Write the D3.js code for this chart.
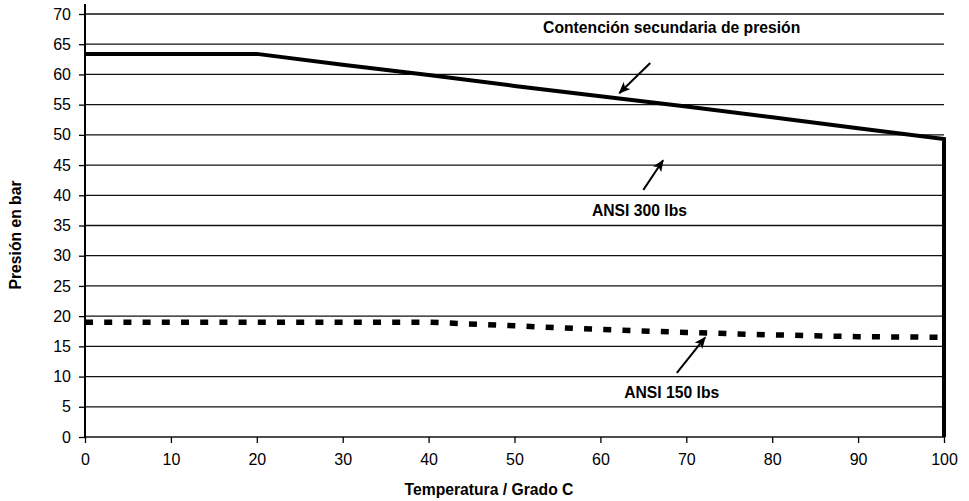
<!DOCTYPE html>
<html>
<head>
<meta charset="utf-8">
<script src="https://cdn.jsdelivr.net/npm/d3@7"></script>
<style>
  html, body { margin: 0; padding: 0; background: #fff; }
  svg { display: block; font-family: "Liberation Sans", Arial, sans-serif; }
</style>
</head>
<body>
<svg id="chart" width="969" height="501"></svg>
<script>
// Temperature (°C) points shared by both rating curves
const temps = [0, 10, 20, 30, 40, 50, 60, 70, 80, 90, 100];
// Secondary pressure containment / ANSI 300 lbs rating (bar)
const ansi300 = [63.4, 63.4, 63.4, 61.6, 59.9, 58.1, 56.4, 54.7, 52.9, 51.1, 49.3];
// ANSI 150 lbs rating (bar)
const ansi150 = [19.0, 19.0, 19.0, 19.0, 19.0, 18.4, 17.8, 17.3, 16.9, 16.6, 16.5];

const xTicks = [0, 10, 20, 30, 40, 50, 60, 70, 80, 90, 100];
const yTicks = [0, 5, 10, 15, 20, 25, 30, 35, 40, 45, 50, 55, 60, 65, 70];

// Text labels and their pointer arrows, in data units
const labels = [
  { text: "Contención secundaria de presión", t: 68.3, p: 66.9 },
  { text: "ANSI 300 lbs", t: 64.55, p: 36.6 },
  { text: "ANSI 150 lbs", t: 68.3, p: 6.45 }
];
const arrows = [
  { t0: 65.8, p0: 61.9, t1: 62.2, p1: 56.9 },
  { t0: 65.0, p0: 40.9, t1: 67.3, p1: 45.8 },
  { t0: 68.9, p0: 10.6, t1: 72.2, p1: 16.5 }
];

const svg = d3.select("#chart");
const x = d3.scaleLinear().domain([0, 100]).range([85, 944]);
const y = d3.scaleLinear().domain([0, 70]).range([437, 14]);

// Horizontal gridlines
svg.append("g").selectAll("line").data(yTicks).join("line")
  .attr("x1", x(0)).attr("x2", x(100))
  .attr("y1", d => y(d)).attr("y2", d => y(d))
  .attr("stroke", "#111").attr("stroke-width", 1.3);

// Y axis
const yAxis = svg.append("g").attr("transform", `translate(${x(0)},0)`)
  .call(d3.axisLeft(y).tickValues(yTicks).tickSize(6).tickPadding(8).tickFormat(d3.format("d")));
yAxis.select(".domain").remove();
yAxis.selectAll(".tick line").attr("stroke", "#000").attr("stroke-width", 1.3);
yAxis.selectAll(".tick text").attr("fill", "#000").attr("font-size", 16)
  .attr("font-family", "Liberation Sans, Arial, sans-serif");
svg.append("line")
  .attr("x1", x(0)).attr("x2", x(0)).attr("y1", 4).attr("y2", y(0) + 1)
  .attr("stroke", "#000").attr("stroke-width", 2);

// X axis
const xAxis = svg.append("g").attr("transform", `translate(0,${y(0)})`)
  .call(d3.axisBottom(x).tickValues(xTicks).tickSize(6).tickPadding(11).tickFormat(d3.format("d")));
xAxis.select(".domain").remove();
xAxis.selectAll(".tick line").attr("stroke", "#000").attr("stroke-width", 1.3);
xAxis.selectAll(".tick text").attr("fill", "#000").attr("font-size", 16)
  .attr("font-family", "Liberation Sans, Arial, sans-serif");

const line = d3.line().x(d => x(d[0])).y(d => y(d[1]));

// ANSI 300 curve, closed down to zero at 100 °C
const upper = temps.map((t, i) => [t, ansi300[i]]);
upper.push([100, 0]);
svg.append("path").datum(upper)
  .attr("d", line).attr("fill", "none")
  .attr("stroke", "#000").attr("stroke-width", 4).attr("stroke-linejoin", "miter");

// ANSI 150 curve (dashed)
svg.append("path").datum(temps.map((t, i) => [t, ansi150[i]]))
  .attr("d", line).attr("fill", "none")
  .attr("stroke", "#000").attr("stroke-width", 5.5).attr("stroke-dasharray", "8,11.2");

// Arrowhead marker
svg.append("defs").append("marker")
  .attr("id", "head").attr("markerUnits", "userSpaceOnUse")
  .attr("viewBox", "0 0 12 10").attr("refX", 11).attr("refY", 5)
  .attr("markerWidth", 12).attr("markerHeight", 10).attr("orient", "auto")
  .append("path").attr("d", "M0,0 L12,5 L0,10 L3,5 Z").attr("fill", "#000");

svg.append("g").selectAll("line").data(arrows).join("line")
  .attr("x1", d => x(d.t0)).attr("y1", d => y(d.p0))
  .attr("x2", d => x(d.t1)).attr("y2", d => y(d.p1))
  .attr("stroke", "#000").attr("stroke-width", 2)
  .attr("marker-end", "url(#head)");

svg.append("g").selectAll("text").data(labels).join("text")
  .attr("x", d => x(d.t)).attr("y", d => y(d.p))
  .attr("text-anchor", "middle").attr("font-weight", "bold").attr("font-size", 15.7)
  .attr("fill", "#000").text(d => d.text);

// Axis titles
svg.append("text")
  .attr("x", 489).attr("y", 495)
  .attr("text-anchor", "middle").attr("font-weight", "bold").attr("font-size", 15.7)
  .text("Temperatura / Grado C");
svg.append("text")
  .attr("transform", "translate(21,235) rotate(-90)")
  .attr("text-anchor", "middle").attr("font-weight", "bold").attr("font-size", 15.7)
  .text("Presión en bar");
</script>
</body>
</html>
